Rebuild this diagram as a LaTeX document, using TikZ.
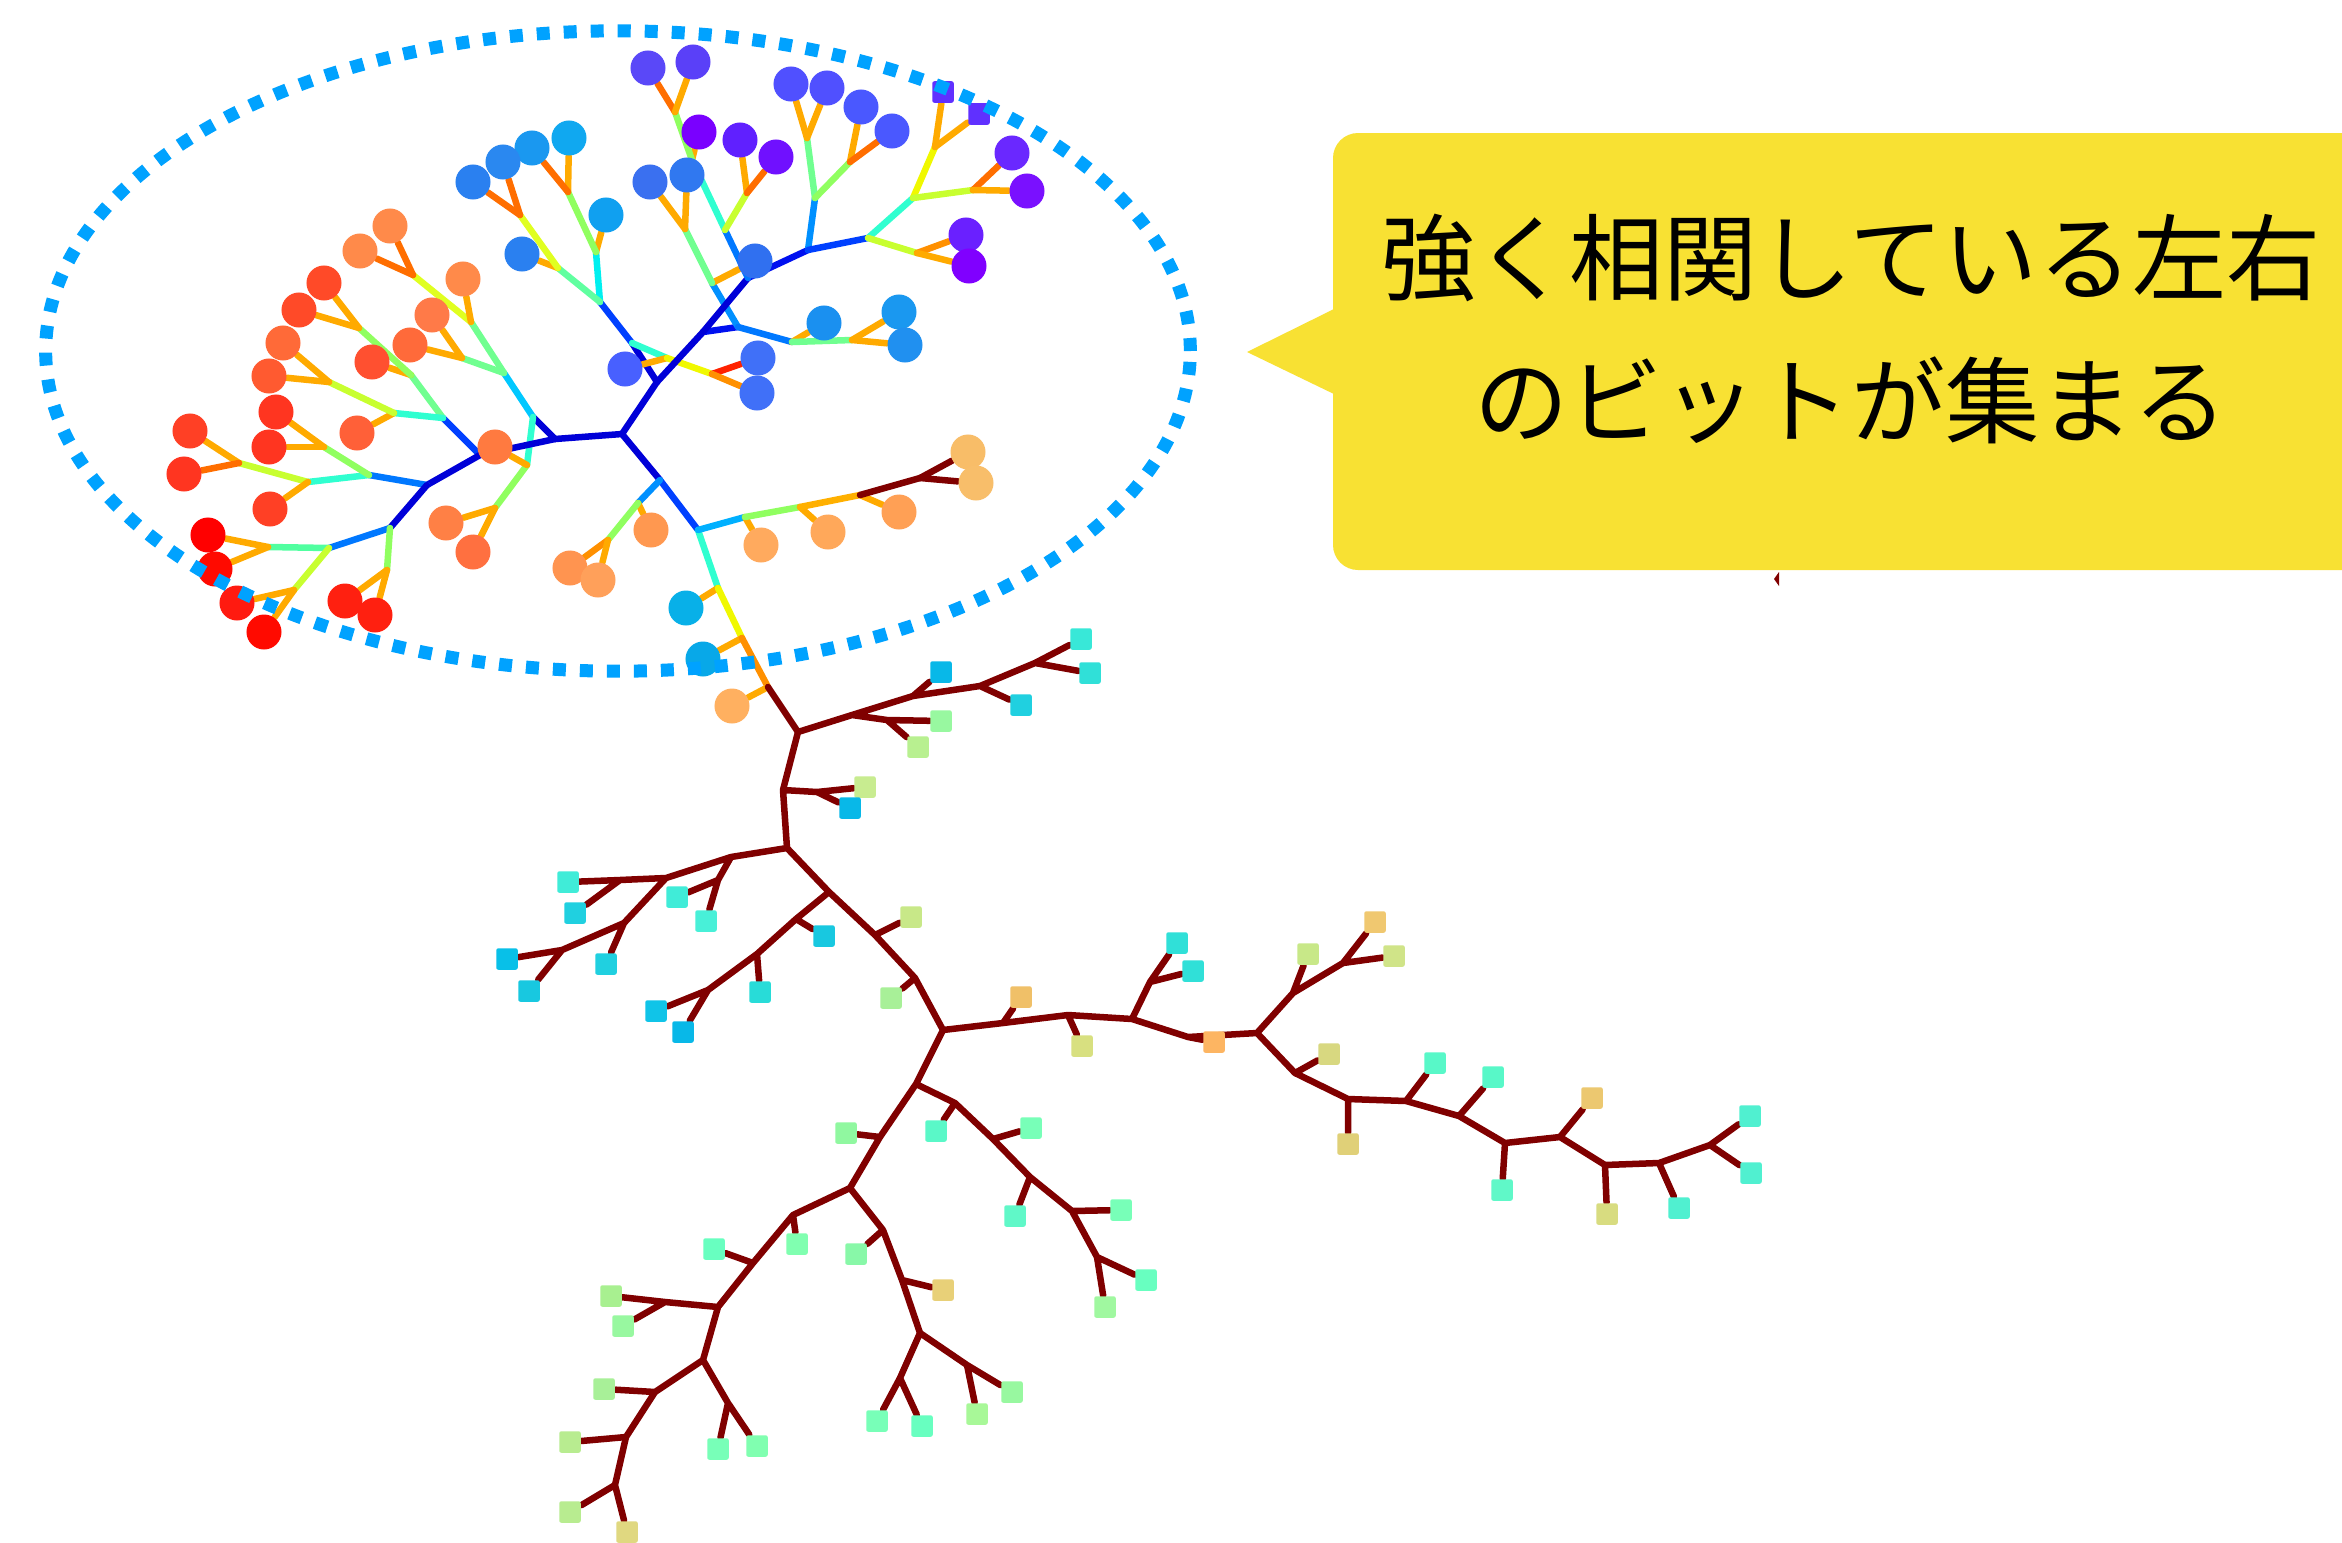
\documentclass[tikz,border=0pt]{standalone}
\usepackage{fontspec}
\newfontfamily\jpfont{Noto Sans CJK JP}
\pgfdeclarelayer{bg}
\pgfsetlayers{bg,main}
\definecolor{ldb}{HTML}{0000D8}
\definecolor{lb0}{HTML}{0010F0}
\definecolor{lb}{HTML}{0040FF}
\definecolor{lmb}{HTML}{0078FF}
\definecolor{lsb}{HTML}{0090FF}
\definecolor{llb}{HTML}{00B0FF}
\definecolor{lcy}{HTML}{00C8FF}
\definecolor{lcy2}{HTML}{00F0F0}
\definecolor{lcg}{HTML}{30FFD0}
\definecolor{lcg2}{HTML}{50FFA0}
\definecolor{lg}{HTML}{70FF90}
\definecolor{lg2}{HTML}{60FFA0}
\definecolor{llg}{HTML}{90FF60}
\definecolor{lyg}{HTML}{C8FF30}
\definecolor{lyg2}{HTML}{E0FF20}
\definecolor{ly}{HTML}{F0F800}
\definecolor{lo}{HTML}{FFAA00}
\definecolor{lor}{HTML}{FF9000}
\definecolor{lob}{HTML}{FFB000}
\definecolor{ldo}{HTML}{FF6E00}
\definecolor{lr}{HTML}{FF2200}
\definecolor{ldr}{HTML}{800000}
\definecolor{ringc}{HTML}{00A2FF}
\definecolor{callout}{HTML}{F8E133}
\newcommand\leafC[4]{\definecolor{lfc}{HTML}{#4}\node[leafc,fill=lfc] (#1) at (#2,#3) {};}
\newcommand\leafS[4]{\definecolor{lfc}{HTML}{#4}\node[leafs,fill=lfc] (#1) at (#2,#3) {};}
\newcommand\tedge[3]{\draw[edge,#1] (#2) -- (#3);}
\begin{document}
\begin{tikzpicture}[x=0.01cm,y=-0.01cm,
  edge/.style={line width=0.065cm, line cap=round, line join=round},
  leafc/.style={circle, inner sep=0pt, minimum size=0.35cm, draw=none},
  leafs/.style={rectangle, inner sep=0pt, minimum size=0.215cm, rounded corners=0.6pt, draw=none},
  dotring/.style={draw=ringc, line width=0.13cm, dash pattern=on 0.13cm off 0.14cm},
  jtext/.style={font=\jpfont\fontsize{26.8pt}{32pt}\selectfont, inner sep=0pt, text=black}]
\useasboundingbox (0,0) rectangle (2342,1542);
\clip (0,0) rectangle (2342,1542);
\begin{pgfonlayer}{bg}
\fill[white] (0,0) rectangle (2342,1542);
\end{pgfonlayer}
% ---------- junctions, top tree ----------
\coordinate (J0) at (622,434);
\coordinate (N) at (555,439);
\coordinate (Q) at (533,417);
\coordinate (Q1) at (504,373);
\coordinate (Q1a) at (462,358);
\coordinate (Q1b) at (471,322);
\coordinate (Q1c) at (413,275);
\coordinate (Qd) at (527,465);
\coordinate (Qe) at (495,508);
\coordinate (R) at (480,455);
\coordinate (S) at (443,418);
\coordinate (Sa) at (411,375);
\coordinate (Sb) at (359,328);
\coordinate (Sc) at (394,413);
\coordinate (Sd) at (329,382);
\coordinate (T) at (427,485);
\coordinate (U) at (369,475);
\coordinate (X) at (324,447);
\coordinate (W) at (308,482);
\coordinate (Y) at (239,463);
\coordinate (V) at (390,528);
\coordinate (Z) at (329,548);
\coordinate (AB) at (268,547);
\coordinate (AC) at (294,590);
\coordinate (AA) at (387,570);
\coordinate (P) at (657,382);
\coordinate (P2) at (632,343);
\coordinate (P3) at (600,302);
\coordinate (P3a) at (596,252);
\coordinate (P3b) at (568,192);
\coordinate (P3c) at (558,268);
\coordinate (P3d) at (520,215);
\coordinate (P2a) at (667,358);
\coordinate (P2b) at (712,374);
\coordinate (R2) at (703,332);
\coordinate (S2) at (738,327);
\coordinate (S2a) at (712,283);
\coordinate (S2b) at (685,229);
\coordinate (V2) at (792,342);
\coordinate (V2a) at (852,340);
\coordinate (T2) at (748,278);
\coordinate (T2a) at (725,230);
\coordinate (T2c) at (692,160);
\coordinate (T2b) at (675,112);
\coordinate (T2d) at (747,193);
\coordinate (W2) at (808,250);
\coordinate (W2a) at (815,198);
\coordinate (W2c) at (807,138);
\coordinate (W2d) at (850,162);
\coordinate (W2b) at (868,238);
\coordinate (W2e) at (913,198);
\coordinate (W2g) at (935,147);
\coordinate (W2h) at (973,190);
\coordinate (W2f) at (917,253);
\coordinate (A) at (660,480);
\coordinate (B) at (698,530);
\coordinate (C) at (638,503);
\coordinate (D) at (608,540);
\coordinate (E) at (718,588);
\coordinate (K) at (742,638);
\coordinate (L) at (768,687);
\coordinate (F) at (745,517);
\coordinate (G) at (800,507);
\coordinate (H) at (860,495);
\coordinate (I) at (920,478);
% ---------- junctions, bottom tree ----------
\coordinate (M) at (798,732);
\coordinate (M1) at (852,715);
\coordinate (M1a) at (887,720);
\coordinate (M2) at (913,696);
\coordinate (M3) at (980,686);
\coordinate (M4) at (1035,663);
\coordinate (N1) at (783,790);
\coordinate (N1a) at (817,792);
\coordinate (N2) at (787,848);
\coordinate (N3) at (731,857);
\coordinate (N3b) at (718,880);
\coordinate (N3a) at (666,878);
\coordinate (N3c) at (620,880);
\coordinate (N3d) at (624,923);
\coordinate (N3e) at (562,950);
\coordinate (N4) at (829,892);
\coordinate (N4a) at (796,919);
\coordinate (N4b) at (757,954);
\coordinate (N4c) at (708,990);
\coordinate (N5) at (875,935);
\coordinate (N6) at (915,978);
\coordinate (N7) at (943,1030);
\coordinate (N8) at (1003,1023);
\coordinate (N9) at (1068,1015);
\coordinate (N10) at (1132,1019);
\coordinate (N10a) at (1150,982);
\coordinate (N11) at (1188,1037);
\coordinate (N12) at (1257,1033);
\coordinate (N13) at (1293,993);
\coordinate (N14) at (1343,963);
\coordinate (N15) at (1295,1073);
\coordinate (N16) at (1348,1099);
\coordinate (N17) at (1406,1101);
\coordinate (N18) at (1459,1116);
\coordinate (N19) at (1505,1143);
\coordinate (N20) at (1560,1137);
\coordinate (N21) at (1605,1165);
\coordinate (N22) at (1659,1163);
\coordinate (N23) at (1710,1145);
\coordinate (N24) at (916,1084);
\coordinate (N25) at (955,1103);
\coordinate (N26) at (993,1139);
\coordinate (N27) at (1030,1177);
\coordinate (N44) at (1072,1211);
\coordinate (N45) at (1097,1257);
\coordinate (N28) at (880,1137);
\coordinate (N29) at (850,1188);
\coordinate (N30) at (883,1230);
\coordinate (N31) at (902,1280);
\coordinate (N32) at (920,1333);
\coordinate (N33) at (900,1378);
\coordinate (N34) at (967,1365);
\coordinate (N35) at (793,1215);
\coordinate (N36) at (753,1263);
\coordinate (N37) at (718,1307);
\coordinate (N38) at (665,1302);
\coordinate (N39) at (703,1360);
\coordinate (N40) at (728,1403);
\coordinate (N41) at (655,1392);
\coordinate (N42) at (626,1437);
\coordinate (N43) at (615,1485);
% ---------- leaves, top tree ----------
\leafC{c1}{432}{315}{FF7A48}
\leafC{c2}{410}{345}{FF6A3A}
\leafC{c3}{463}{279}{FF8A4A}
\leafC{c4}{390}{226}{FF8A4A}
\leafC{c5}{360}{251}{FF8A4A}
\leafC{c6}{446}{523}{FF8045}
\leafC{c7}{473}{552}{FF7040}
\leafC{c8}{495}{447}{FF7A40}
\leafC{c9}{372}{362}{FF5030}
\leafC{c10}{324}{283}{FF4A28}
\leafC{c11}{299}{310}{FF4A28}
\leafC{c12}{357}{433}{FF6038}
\leafC{c13}{283}{343}{FF6A38}
\leafC{c14}{269}{376}{FF5A30}
\leafC{c15}{276}{412}{FF3520}
\leafC{c16}{269}{447}{FF3520}
\leafC{c17}{270}{509}{FF4025}
\leafC{c18}{190}{431}{FF4025}
\leafC{c19}{184}{474}{FF3520}
\leafC{c20}{345}{601}{FF2010}
\leafC{c21}{375}{615}{FF2010}
\leafC{c22}{208}{535}{FF0000}
\leafC{c23}{215}{569}{FF0A00}
\leafC{c24}{237}{603}{FF1A10}
\leafC{c25}{264}{632}{FF0A00}
\leafC{c26}{606}{215}{10A0F0}
\leafC{c27}{569}{138}{10A8F0}
\leafC{c28}{532}{148}{1A98F0}
\leafC{c29}{522}{254}{2A80F0}
\leafC{c30}{503}{162}{2A88F0}
\leafC{c31}{473}{182}{2A80F0}
\leafC{c32}{625}{369}{4860FF}
\leafC{c33}{758}{358}{4070F8}
\leafC{c34}{757}{393}{4070F8}
\leafC{c35}{755}{261}{3070F0}
\leafC{c36}{650}{182}{3A70F0}
\leafC{c37}{687}{175}{3078F0}
\leafC{c38}{824}{323}{1A90F0}
\leafC{c39}{899}{312}{1A98F0}
\leafC{c40}{905}{345}{2090F0}
\leafC{c41}{699}{132}{7A00FF}
\leafC{c42}{648}{68}{5A48F8}
\leafC{c43}{693}{62}{5A40F8}
\leafC{c44}{740}{140}{6020FF}
\leafC{c45}{776}{157}{7010FF}
\leafC{c46}{791}{84}{5050FF}
\leafC{c47}{827}{88}{5050FF}
\leafC{c48}{861}{107}{4A58FF}
\leafC{c49}{892}{131}{4A58FF}
\leafS{q1}{943}{92}{6030FF}
\leafS{q2}{979}{114}{6030FF}
\leafC{c50}{1012}{153}{6A28FF}
\leafC{c51}{1027}{191}{7A10FF}
\leafC{c52}{966}{235}{6A20FF}
\leafC{c53}{969}{266}{8000FF}
\leafC{c54}{651}{530}{FF9850}
\leafC{c55}{570}{568}{FF9450}
\leafC{c56}{598}{580}{FFA05A}
\leafC{c57}{761}{545}{FFAA5E}
\leafC{c58}{828}{532}{FFA85A}
\leafC{c59}{899}{512}{FFA055}
\leafC{c60}{968}{452}{F8BD68}
\leafC{c61}{976}{483}{F8BE6A}
\leafC{c62}{686}{608}{08B0E8}
\leafC{c63}{703}{659}{08A8E8}
\leafC{c64}{732}{706}{FFB060}
% ---------- leaves, bottom tree ----------
\leafS{s1}{941}{721}{98F8A0}
\leafS{s2}{918}{747}{B8F090}
\leafS{s3}{941}{672}{08B8E8}
\leafS{s4}{1021}{705}{20D0E0}
\leafS{s5}{1081}{639}{38E8D8}
\leafS{s6}{1090}{673}{30E0D8}
\leafS{s7}{865}{787}{C8EC90}
\leafS{s8}{850}{808}{08B8E8}
\leafS{s9}{706}{921}{48F0D8}
\leafS{s10}{677}{897}{40ECD8}
\leafS{s11}{568}{882}{40ECD8}
\leafS{s12}{575}{913}{20D0E0}
\leafS{s13}{606}{964}{20D0E0}
\leafS{s14}{507}{959}{08C0E8}
\leafS{s15}{529}{991}{18C8E0}
\leafS{s16}{824}{936}{18C8E0}
\leafS{s17}{760}{992}{28DCD8}
\leafS{s18}{656}{1011}{10C4E8}
\leafS{s19}{683}{1032}{08B8E8}
\leafS{s20}{911}{917}{C8E888}
\leafS{s21}{891}{998}{A8F098}
\leafS{s22}{1021}{997}{F0C068}
\leafS{s23}{1082}{1046}{D8E080}
\leafS{s24}{1177}{943}{30E0D8}
\leafS{s25}{1193}{971}{30E0D8}
\leafS{s26}{1214}{1042}{FDB562}
\leafS{s27}{1308}{954}{C8E888}
\leafS{s28}{1375}{922}{F0C870}
\leafS{s29}{1394}{956}{D0E488}
\leafS{s30}{1329}{1054}{D8D880}
\leafS{s31}{1348}{1144}{E0D078}
\leafS{s32}{1435}{1063}{58F8C8}
\leafS{s33}{1493}{1077}{58F8C8}
\leafS{s34}{1502}{1190}{60F8C8}
\leafS{s35}{1592}{1098}{ECC870}
\leafS{s36}{1607}{1214}{D8DC80}
\leafS{s37}{1679}{1208}{50F0D0}
\leafS{s38}{1750}{1116}{50F0D0}
\leafS{s39}{1751}{1173}{50F0D0}
\leafS{s40}{936}{1131}{5AF8C8}
\leafS{s41}{1031}{1128}{78FFB8}
\leafS{s42}{1015}{1216}{60F8C8}
\leafS{s43}{1121}{1210}{78FFB8}
\leafS{s44}{1146}{1280}{68FFC0}
\leafS{s45}{1105}{1307}{A0F8A0}
\leafS{s46}{846}{1133}{90F8A0}
\leafS{s47}{856}{1254}{88F8A8}
\leafS{s48}{943}{1290}{E8D078}
\leafS{s49}{877}{1421}{78FFB8}
\leafS{s50}{922}{1426}{68FFC0}
\leafS{s51}{977}{1414}{A8F898}
\leafS{s52}{1012}{1392}{98F8A0}
\leafS{s53}{797}{1244}{80FFB0}
\leafS{s54}{714}{1249}{68FFC0}
\leafS{s55}{611}{1296}{A8F090}
\leafS{s56}{623}{1326}{98F8A0}
\leafS{s57}{718}{1449}{78FFB8}
\leafS{s58}{757}{1446}{80FFB0}
\leafS{s59}{604}{1389}{A8F098}
\leafS{s60}{570}{1442}{B8EC90}
\leafS{s61}{570}{1512}{B8EC90}
\leafS{s62}{627}{1532}{E0D880}
% ---------- connectors ----------
\begin{pgfonlayer}{bg}
\tedge{ldb}{J0}{N}\tedge{ldb}{N}{Q}\tedge{lcy}{Q}{Q1}
\tedge{lg}{Q1}{Q1a}\tedge{lg}{Q1}{Q1b}\tedge{lyg2}{Q1b}{Q1c}
\tedge{lo}{Q1a}{c1}\tedge{lo}{Q1a}{c2}\tedge{lo}{Q1b}{c3}\tedge{ldo}{Q1c}{c4}\tedge{ldo}{Q1c}{c5}
\tedge{lcg}{Q}{Qd}\tedge{llg}{Qd}{Qe}\tedge{lo}{Qe}{c6}\tedge{lo}{Qe}{c7}\tedge{lo}{Qd}{c8}
\tedge{ldb}{N}{R}\tedge{lb}{R}{S}\tedge{ldb}{R}{T}
\tedge{lg}{S}{Sa}\tedge{lo}{Sa}{c9}\tedge{llg}{Sa}{Sb}\tedge{lo}{Sb}{c10}\tedge{lo}{Sb}{c11}
\tedge{lcg}{S}{Sc}\tedge{lo}{Sc}{c12}\tedge{lyg}{Sc}{Sd}\tedge{lo}{Sd}{c13}\tedge{lo}{Sd}{c14}
\tedge{lmb}{T}{U}\tedge{lcg}{U}{W}\tedge{llg}{U}{X}\tedge{lo}{X}{c15}\tedge{lo}{X}{c16}
\tedge{lyg}{W}{Y}\tedge{lo}{W}{c17}\tedge{lo}{Y}{c18}\tedge{ldo}{Y}{c19}
\tedge{ldb}{T}{V}\tedge{lmb}{V}{Z}\tedge{llg}{V}{AA}\tedge{lo}{AA}{c20}\tedge{lo}{AA}{c21}
\tedge{lcg2}{Z}{AB}\tedge{lyg}{Z}{AC}\tedge{lo}{AB}{c22}\tedge{lo}{AB}{c23}\tedge{lo}{AC}{c24}\tedge{lo}{AC}{c25}
\tedge{ldb}{J0}{P}\tedge{ldb}{P}{P2}\tedge{lb}{P2}{P3}\tedge{lcy2}{P3}{P3a}\tedge{lo}{P3a}{c26}
\tedge{llg}{P3a}{P3b}\tedge{lo}{P3b}{c27}\tedge{ldo}{P3b}{c28}
\tedge{lg2}{P3}{P3c}\tedge{lo}{P3c}{c29}\tedge{lyg2}{P3c}{P3d}\tedge{ldo}{P3d}{c30}\tedge{ldo}{P3d}{c31}
\tedge{lcg}{P2}{P2a}\tedge{lo}{P2a}{c32}\tedge{ly}{P2a}{P2b}\tedge{lr}{P2b}{c33}\tedge{lor}{P2b}{c34}
\tedge{ldb}{P}{R2}\tedge{lb0}{R2}{S2}\tedge{lsb}{S2}{S2a}\tedge{lo}{S2a}{c35}\tedge{lg}{S2a}{S2b}
\tedge{lo}{S2b}{c36}\tedge{lo}{S2b}{c37}
\tedge{lmb}{S2}{V2}\tedge{lo}{V2}{c38}\tedge{lg}{V2}{V2a}\tedge{lo}{V2a}{c39}\tedge{lo}{V2a}{c40}
\tedge{ldb}{R2}{T2}\tedge{lb0}{T2}{W2}\tedge{lmb}{T2}{T2a}\tedge{lcg}{T2a}{T2c}\tedge{lo}{T2c}{c41}
\tedge{llg}{T2c}{T2b}\tedge{ldo}{T2b}{c42}\tedge{lo}{T2b}{c43}
\tedge{lyg}{T2a}{T2d}\tedge{lo}{T2d}{c44}\tedge{ldo}{T2d}{c45}
\tedge{lsb}{W2}{W2a}\tedge{lg}{W2a}{W2c}\tedge{lo}{W2c}{c46}\tedge{lo}{W2c}{c47}
\tedge{llg}{W2a}{W2d}\tedge{lo}{W2d}{c48}\tedge{ldo}{W2d}{c49}
\tedge{lb}{W2}{W2b}\tedge{lcg}{W2b}{W2e}\tedge{ly}{W2e}{W2g}\tedge{lo}{W2g}{q1}\tedge{lo}{W2g}{q2}
\tedge{lyg}{W2e}{W2h}\tedge{ldo}{W2h}{c50}\tedge{lo}{W2h}{c51}
\tedge{lyg}{W2b}{W2f}\tedge{lor}{W2f}{c52}\tedge{lo}{W2f}{c53}
\tedge{ldb}{J0}{A}\tedge{lb}{A}{B}\tedge{lsb}{A}{C}\tedge{lo}{C}{c54}\tedge{llg}{C}{D}
\tedge{lor}{D}{c55}\tedge{lo}{D}{c56}
\tedge{lcg}{B}{E}\tedge{lo}{E}{c62}\tedge{ly}{E}{K}\tedge{lo}{K}{c63}\tedge{lor}{K}{L}\tedge{lo}{L}{c64}
\tedge{ldr}{L}{M}
\tedge{llb}{B}{F}\tedge{lo}{F}{c57}\tedge{llg}{F}{G}\tedge{lo}{G}{c58}\tedge{lob}{G}{H}\tedge{lo}{H}{c59}
\tedge{ldr}{H}{I}\tedge{ldr}{I}{c60}\tedge{ldr}{I}{c61}
\draw[edge,ldr]
 (M)--(M1) (M1)--(M2) (M1)--(M1a) (M1a)--(s1) (M1a)--(s2) (M2)--(s3) (M2)--(M3) (M3)--(s4)
 (M3)--(M4) (M4)--(s5) (M4)--(s6)
 (M)--(N1) (N1)--(N1a) (N1a)--(s7) (N1a)--(s8) (N1)--(N2) (N2)--(N3) (N3)--(N3b) (N3b)--(s9)
 (N3b)--(s10) (N3)--(N3a) (N3a)--(N3c) (N3c)--(s11) (N3c)--(s12) (N3a)--(N3d) (N3d)--(s13)
 (N3d)--(N3e) (N3e)--(s14) (N3e)--(s15)
 (N2)--(N4) (N4)--(N4a) (N4a)--(s16) (N4a)--(N4b) (N4b)--(s17) (N4b)--(N4c) (N4c)--(s18)
 (N4c)--(s19) (N4)--(N5) (N5)--(s20) (N5)--(N6) (N6)--(s21) (N6)--(N7)
 (N7)--(N8) (N8)--(s22) (N8)--(N9) (N9)--(s23) (N9)--(N10) (N10)--(N10a) (N10a)--(s24)
 (N10a)--(s25) (N10)--(N11) (N11)--(s26) (N11)--(N12) (N12)--(N13) (N13)--(s27) (N13)--(N14)
 (N14)--(s28) (N14)--(s29) (N12)--(N15) (N15)--(s30) (N15)--(N16) (N16)--(s31) (N16)--(N17)
 (N17)--(s32) (N17)--(N18) (N18)--(s33) (N18)--(N19) (N19)--(s34) (N19)--(N20) (N20)--(s35)
 (N20)--(N21) (N21)--(s36) (N21)--(N22) (N22)--(s37) (N22)--(N23) (N23)--(s38) (N23)--(s39)
 (N7)--(N24) (N24)--(N25) (N25)--(s40) (N25)--(N26) (N26)--(s41) (N26)--(N27) (N27)--(s42)
 (N27)--(N44) (N44)--(s43) (N44)--(N45) (N45)--(s44) (N45)--(s45)
 (N24)--(N28) (N28)--(s46) (N28)--(N29) (N29)--(N30) (N30)--(s47) (N30)--(N31) (N31)--(s48)
 (N31)--(N32) (N32)--(N33) (N33)--(s49) (N33)--(s50) (N32)--(N34) (N34)--(s51) (N34)--(s52)
 (N29)--(N35) (N35)--(s53) (N35)--(N36) (N36)--(s54) (N36)--(N37) (N37)--(N38) (N38)--(s55)
 (N38)--(s56) (N37)--(N39) (N39)--(N40) (N40)--(s57) (N40)--(s58) (N39)--(N41) (N41)--(s59)
 (N41)--(N42) (N42)--(s60) (N42)--(N43) (N43)--(s61) (N43)--(s62);
\end{pgfonlayer}
% ---------- dotted ring ----------
\draw[dotring] (618,351) ellipse [x radius=5.72cm, y radius=3.20cm];
% ---------- callout ----------
\fill[callout, rounded corners=0.25cm] (1333,133) rectangle (2420,570);
\fill[callout] (1336,308) -- (1247,352) -- (1336,395) -- cycle;
\node[jtext] (t1) at (1851,258) {強く相関している左右};
\node[jtext] (t2) at (1851,400) {のビットが集まる};
\fill[ldr] (1779,572) -- (1774,579) -- (1779,586) -- cycle;
\end{tikzpicture}
\end{document}
